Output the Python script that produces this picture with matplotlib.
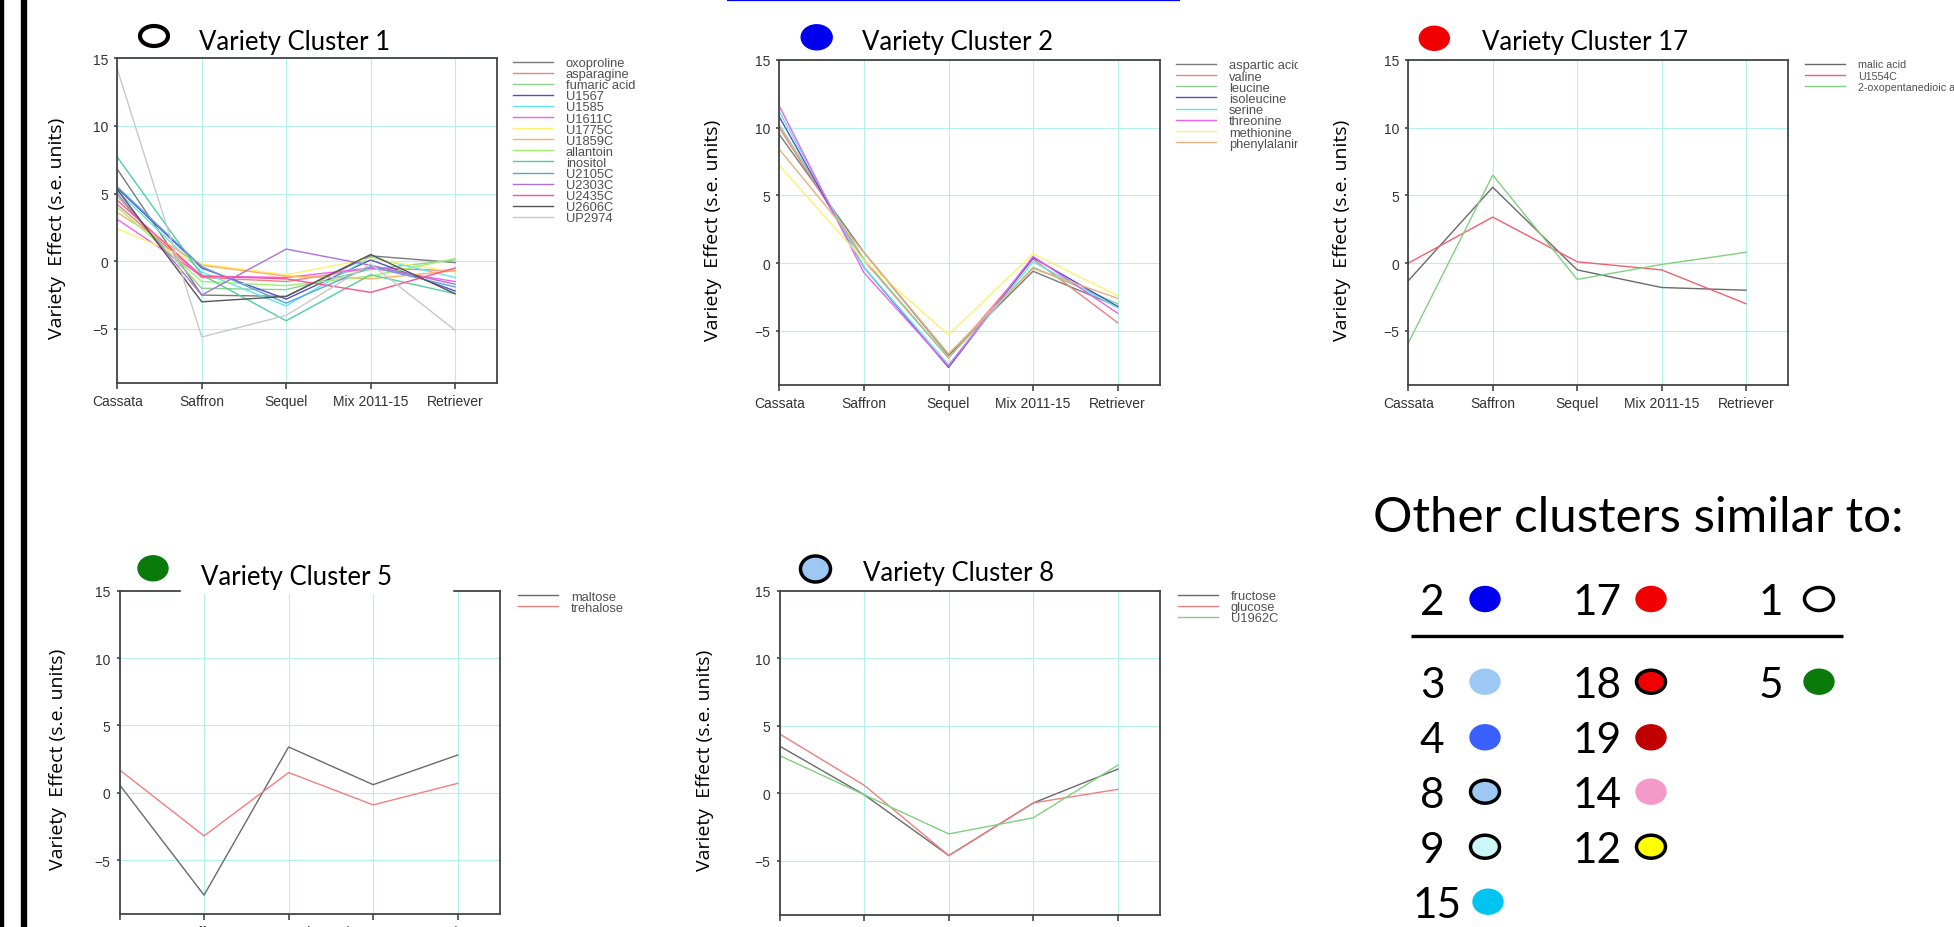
import numpy as np
import matplotlib
matplotlib.use('Agg')
import matplotlib.pyplot as plt
from matplotlib.patches import Ellipse, Rectangle

# canvas in pixels (dpi 100)
W, H = 1954, 928

varieties = ['Cassata', 'Saffron', 'Sequel', 'Mix 2011-15', 'Retriever']
y_ticks = [-5, 0, 5, 10, 15]

# Variety cluster 1
c1_names = ['oxoproline', 'asparagine', 'fumaric acid', 'U1567', 'U1585',
            'U1611C', 'U1775C', 'U1859C', 'allantoin', 'inositol',
            'U2105C', 'U2303C', 'U2435C', 'U2606C', 'UP2974']
c1_values = [
    [6.8, -2.5, -2.6, 0.4, -0.1],
    [4.2, -1.2, -1.5, -0.5, -0.7],
    [4.8, -2.0, -2.1, -0.6, 0.1],
    [5.4, -0.5, -2.8, 0.1, -2.2],
    [5.2, -0.8, -3.3, 0.3, -1.2],
    [3.1, -1.1, -1.2, -0.5, -1.5],
    [2.4, -0.2, -1.0, 0.2, -0.8],
    [3.6, -0.3, -1.1, -1.3, -0.7],
    [4.0, -1.5, -1.8, -1.1, 0.2],
    [7.7, -1.0, -4.4, -1.0, -2.4],
    [5.5, -0.4, -3.1, -0.4, -1.9],
    [5.0, -2.5, 0.9, -0.3, -1.7],
    [4.5, -1.1, -1.3, -2.3, -0.5],
    [5.3, -3.0, -2.6, 0.5, -2.4],
    [14.2, -5.6, -4.0, -0.2, -5.1],
]
c1_colors = ['#7a7a7a', '#f08080', '#8fd08f', '#5050c8', '#60e8e8',
             '#f060f0', '#fff070', '#ffb060', '#a0f070', '#50d0a0',
             '#60a0e0', '#b070d8', '#ff5090', '#555555', '#c8c8c8']

# Variety cluster 2
c2_names = ['aspartic acid', 'valine', 'leucine', 'isoleucine', 'serine',
            'threonine', 'methionine', 'phenylalanine']
c2_values = [
    [9.5, 0.8, -6.8, -0.6, -3.2],
    [10.0, 0.2, -7.0, 0.3, -4.4],
    [10.2, 0.3, -7.0, -0.3, -3.0],
    [10.8, -0.3, -7.7, 0.4, -3.2],
    [11.2, -0.3, -7.5, 0.1, -3.3],
    [11.6, -0.7, -7.6, 0.5, -3.7],
    [7.2, 0.2, -5.3, 0.7, -2.4],
    [8.4, 0.8, -6.7, -0.4, -2.6],
]
c2_colors = ['#7a7a7a', '#f08080', '#8fd08f', '#5050c8', '#60e8e8',
             '#f060f0', '#fff070', '#e8b080']

# Variety cluster 17
c17_names = ['malic acid', 'U1554C', '2-oxopentanedioic acid']
c17_values = [
    [-1.3, 5.6, -0.5, -1.8, -2.0],
    [0.0, 3.4, 0.1, -0.5, -3.0],
    [-5.9, 6.5, -1.2, -0.1, 0.8],
]
c17_colors = ['#6a6a6a', '#f06070', '#80d080']

# Variety cluster 5
c5_names = ['maltose', 'trehalose']
c5_values = [
    [0.6, -7.6, 3.4, 0.6, 2.8],
    [1.7, -3.2, 1.5, -0.9, 0.7],
]
c5_colors = ['#6a6a6a', '#f08080']

# Variety cluster 8
c8_names = ['fructose', 'glucose', 'U1962C']
c8_values = [
    [3.5, -0.1, -4.6, -0.7, 1.8],
    [4.4, 0.6, -4.6, -0.7, 0.3],
    [2.8, -0.1, -3.0, -1.8, 2.1],
]
c8_colors = ['#6a6a6a', '#f08080', '#80d080']

# "Other clusters similar to" table
other_labels = ['2', '17', '1', '3', '18', '5', '4', '19', '8', '14', '9', '12', '15']
other_faces = ['#0000ee', '#f00000', 'white', '#9cc8f3', '#f00000', '#0a7a0a',
               '#3a60ff', '#c00000', '#9cc8f3', '#f59ac8', '#ccf6f8', '#ffff00', '#00c4f0']
other_edges = [None, None, 'black', None, 'black', None,
               None, None, 'black', None, 'black', 'black', None]
other_cols = [0, 1, 2, 0, 1, 2, 0, 1, 0, 1, 0, 1, 0]
other_rows = [0, 0, 0, 1, 1, 1, 2, 2, 3, 3, 4, 4, 5]

plt.rcParams['font.family'] = ['Liberation Sans', 'DejaVu Sans']


def px_box(left, right, top, bottom):
    return [left / W, 1 - bottom / H, (right - left) / W, (bottom - top) / H]


def draw_panel(fig, rect, names, values, colors, ylab_x, leg_x, leg_top,
               leg_size, leg_step):
    ax = fig.add_axes(px_box(*rect))
    xs = np.arange(len(varieties))
    for name, vals, col in zip(names, values, colors):
        ax.plot(xs, vals, color=col, lw=1.0, label=name)
    ax.set_xlim(0, 4.5)
    ax.set_ylim(-9, 15)
    ax.set_xticks(xs, varieties)
    ax.set_yticks(y_ticks)
    ax.grid(True, color='#b4f0f0', lw=0.8)
    ax.set_axisbelow(True)
    for sp in ax.spines.values():
        sp.set_color('#444444')
        sp.set_linewidth(1.3)
    ax.tick_params(axis='x', length=4, width=1.2, color='#444444', pad=4,
                   labelsize=10, labelcolor='#333333')
    ax.tick_params(axis='y', length=2.5, width=1.2, color='#444444', pad=4,
                   labelsize=10, labelcolor='#333333')
    ax.set_ylabel('Variety  Effect (s.e. units)', family='Open Sans',
                  fontsize=14, va='center')
    ax.yaxis.set_label_coords((ylab_x - rect[0]) / (rect[1] - rect[0]), 0.48)

    fpx = leg_size * 100 / 72
    ax.legend(loc='upper left', bbox_to_anchor=(leg_x / W, 1 - leg_top / H),
              bbox_transform=fig.transFigure, frameon=False, fontsize=leg_size,
              handlelength=40 / fpx, handletextpad=13 / fpx, borderpad=0,
              borderaxespad=0, labelspacing=leg_step / fpx - 0.94,
              labelcolor='#505050')
    return ax


def title_marker(ov, cx, cy, w, h, face, edge, lw, text, tx, ty):
    ov.add_patch(Ellipse((cx, cy), w, h, facecolor=face,
                         edgecolor=edge if edge else face, lw=lw))
    ov.text(tx, ty, text, family='Lato', fontsize=18.5, va='baseline', ha='left')


fig = plt.figure(figsize=(W / 100, H / 100), dpi=100)
fig.patch.set_facecolor('white')

draw_panel(fig, (117.3, 497.3, 59.3, 384), c1_names, c1_values, c1_colors,
           57, 513, 58, 9.3, 11.2)
draw_panel(fig, (779.3, 1160, 61, 386), c2_names, c2_values, c2_colors,
           713, 1176, 60.3, 9.3, 11.3)
draw_panel(fig, (1408.3, 1788.3, 61, 386), c17_names, c17_values, c17_colors,
           1342, 1805, 60.5, 7.7, 11.3)
draw_panel(fig, (119.5, 500, 591.7, 915), c5_names, c5_values, c5_colors,
           58, 518, 591.7, 9.3, 11.0)
draw_panel(fig, (779.6, 1160.4, 591.7, 916), c8_names, c8_values, c8_colors,
           705, 1177.6, 591, 9.3, 11.3)

# overlay in pixel coordinates for the slide decorations
ov = fig.add_axes([0, 0, 1, 1], zorder=10)
ov.set_xlim(0, W)
ov.set_ylim(H, 0)
ov.axis('off')
ov.patch.set_alpha(0)

# left double border and blue link underline
ov.add_patch(Rectangle((0, 0), 3, H, color='black'))
ov.add_patch(Rectangle((21, 0), 5, H, color='black'))
ov.plot([727, 1180], [1, 1], color='#0000ff', lw=1.6, solid_capstyle='butt')

# clipped legend of cluster 2, white box behind cluster 5 title
ov.add_patch(Rectangle((1298, 52), 30, 100, color='white'))
ov.add_patch(Rectangle((181, 546), 271, 47.5, color='white'))

title_marker(ov, 154, 37, 28, 20, 'white', 'black', 3.0, 'Variety Cluster 1', 199, 50)
title_marker(ov, 816.7, 38.3, 31, 25, '#0000ee', None, 1, 'Variety Cluster 2', 861.7, 50)
title_marker(ov, 1434.3, 39.3, 30, 24, '#f00000', None, 1, 'Variety Cluster 17', 1482.3, 50)
title_marker(ov, 153, 569.3, 30, 25, '#0a7a0a', None, 1, 'Variety Cluster 5', 201, 585)
title_marker(ov, 815.5, 570, 30, 26, '#9cc8f3', 'black', 2.5, 'Variety Cluster 8', 863.3, 581.5)

# other clusters table
ov.text(1373, 531.7, 'Other clusters similar to:', family='Lato', fontsize=35.5,
        va='baseline', ha='left')
num_x = [1432, 1597, 1771]
dot_x = [1485, 1651, 1819]
row_y = [600, 682.7, 738.3, 792.7, 847.7, 902.7]
for lab, face, edge, col, row in zip(other_labels, other_faces, other_edges,
                                     other_cols, other_rows):
    nx, dx = num_x[col], dot_x[col]
    if lab == '15':
        nx, dx = 1437, 1488
    ov.text(nx, row_y[row] + 15, lab, family='Lato', fontsize=30.5,
            va='baseline', ha='center')
    ov.add_patch(Ellipse((dx, row_y[row]), 29 if edge else 30, 23 if edge else 25,
                         facecolor=face, edgecolor=edge if edge else face,
                         lw=2.5 if edge else 1))
ov.plot([1411, 1843], [636.7, 636.7], color='black', lw=2.4, solid_capstyle='butt')

fig.savefig('out.png', dpi=100, facecolor='white')
